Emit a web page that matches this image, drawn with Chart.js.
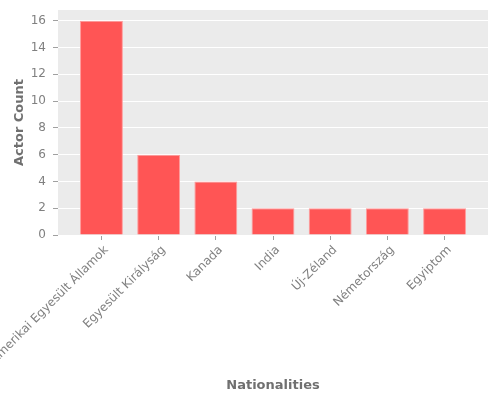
<!DOCTYPE html>
<html>
<head>
<meta charset="utf-8">
<script src="https://cdn.jsdelivr.net/npm/chart.js@4/dist/chart.umd.min.js"></script>
<style>
  html, body { margin: 0; padding: 0; background: #fff; }
  canvas { display: block; }
</style>
</head>
<body>
<canvas id="chart" width="500" height="400"></canvas>
<script>
const countries = [
    'Amerikai Egyesült Államok',
    'Egyesült Királyság',
    'Kanada',
    'India',
    'Új-Zéland',
    'Németország',
    'Egyiptom'
];
const actorCounts = [16, 6, 4, 2, 2, 2, 2];
const yTicks = [0, 2, 4, 6, 8, 10, 12, 14, 16];

// grey panel behind the bars
const panelBackground = {
    id: 'panelBackground',
    beforeDraw(chart) {
        const { ctx, chartArea } = chart;
        ctx.save();
        ctx.fillStyle = '#ebebeb';
        ctx.fillRect(chartArea.left, chartArea.top, chartArea.right - chartArea.left, chartArea.bottom - chartArea.top);
        ctx.restore();
    }
};

const ctx = document.getElementById('chart').getContext('2d');
new Chart(ctx, {
    type: 'bar',
    data: {
        datasets: [{
            label: 'Actor Count',
            data: actorCounts.map((c, i) => ({ x: i, y: c })),
            backgroundColor: '#ff5555',
            borderColor: '#ff9c9c',
            borderWidth: 1,
            barPercentage: 0.75,
            categoryPercentage: 1.0,
        }]
    },
    options: {
        responsive: false,
        animation: false,
        devicePixelRatio: 1,
        layout: {
            autoPadding: false,
            padding: { top: 10, right: 12, left: 0, bottom: 0 }
        },
        plugins: {
            legend: { display: false },
            tooltip: { enabled: false }
        },
        scales: {
            x: {
                type: 'linear',
                offset: false,
                min: -0.76,
                max: 6.76,
                afterBuildTicks: (scale) => { scale.ticks = countries.map((_, i) => ({ value: i })); },
                afterFit: (scale) => {
                    // let the long first label run off the left edge, like the original
                    scale.height = 165;
                    scale.paddingLeft = 0;
                    scale.paddingRight = 0;
                },
                border: { display: false },
                grid: { offset: false, drawOnChartArea: false, tickColor: '#a0a0a0', tickLength: 5 },
                ticks: {
                    minRotation: 45,
                    maxRotation: 45,
                    autoSkip: false,
                    padding: 3,
                    labelOffset: 5,
                    color: '#808080',
                    font: { family: 'DejaVu Sans', size: 12 },
                    callback: (v) => countries[v] ?? ''
                },
                title: {
                    display: true,
                    text: 'Nationalities',
                    color: '#707070',
                    font: { family: 'DejaVu Sans', size: 13, weight: 'bold' },
                    padding: { top: 0, bottom: 7 }
                }
            },
            y: {
                min: 0,
                max: 16.8,
                afterBuildTicks: (scale) => { scale.ticks = yTicks.map(v => ({ value: v })); },
                afterFit: (scale) => {
                    scale.width = 58;
                    scale.paddingTop = 0;
                    scale.paddingBottom = 0;
                },
                border: { display: false },
                grid: { color: '#ffffff', lineWidth: 1, tickColor: '#a0a0a0', tickLength: 5 },
                ticks: {
                    padding: 7,
                    color: '#808080',
                    font: { family: 'DejaVu Sans', size: 12 }
                },
                title: {
                    display: true,
                    text: 'Actor Count',
                    color: '#707070',
                    font: { family: 'DejaVu Sans', size: 13, weight: 'bold' },
                    padding: { top: 12, bottom: 0 }
                }
            }
        }
    },
    plugins: [panelBackground]
});
</script>
</body>
</html>
